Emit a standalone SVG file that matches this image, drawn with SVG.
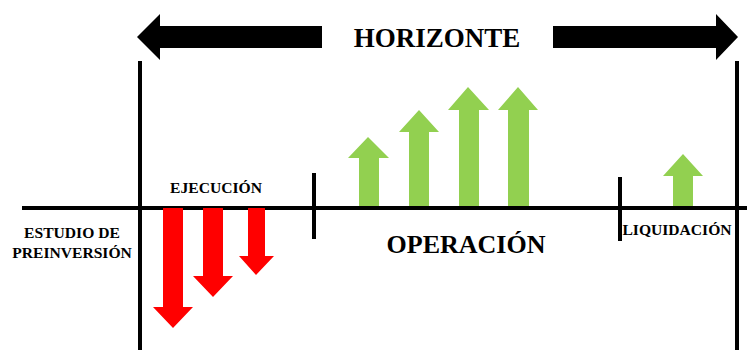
<svg xmlns="http://www.w3.org/2000/svg" width="747" height="350" viewBox="0 0 747 350">
<style>
.t{font-family:"Liberation Serif","Times New Roman",serif;font-weight:bold;fill:#000;text-anchor:middle}
.ln{stroke:#000;stroke-width:4;fill:none}
.red{fill:#FF0000}
.grn{fill:#92D050}
</style>
<rect width="747" height="350" fill="#fff"/>
<g id="horizonte">
<polygon points="137,37 160,14 160,26 322,26 322,48 160,48 160,60" fill="#000"/>
<polygon points="738,37 716,14 716,26 553,26 553,48 716,48 716,60" fill="#000"/>
<text class="t" x="437" y="47" font-size="27">HORIZONTE</text>
</g>
<g id="connectors">
<line class="ln" x1="22" y1="208" x2="747" y2="208"/>
<line class="ln" x1="140" y1="61" x2="140" y2="350"/>
<line class="ln" x1="737" y1="61" x2="737" y2="350"/>
<line class="ln" x1="314" y1="173" x2="314" y2="239"/>
<line class="ln" x1="620" y1="177" x2="620" y2="241"/>
</g>
<g id="preinversion">
<text class="t" x="72" y="238" font-size="15.6">ESTUDIO DE</text>
<text class="t" x="72" y="258" font-size="15.6">PREINVERSIÓN</text>
</g>
<g id="ejecucion">
<text class="t" x="216" y="193" font-size="15.6">EJECUCIÓN</text>
<polygon class="red" points="163,208 183,208 183,307 193,307 173,328 153,307 163,307"/>
<polygon class="red" points="203,208 223,208 223,276 233,276 213,297 193,276 203,276"/>
<polygon class="red" points="248,208 265,208 265,256 274,256 256,275 239,256 248,256"/>
</g>
<g id="operacion">
<text class="t" x="466" y="253" font-size="26">OPERACIÓN</text>
<polygon class="grn" points="359,206 379,206 379,158 389,158 368,137 348,158 359,158"/>
<polygon class="grn" points="409,206 429,206 429,132 439,132 419,110 399,132 409,132"/>
<polygon class="grn" points="459,206 479,206 479,110 489,110 468,87 448,110 459,110"/>
<polygon class="grn" points="508,206 529,206 529,110 538,110 518,87 498,110 508,110"/>
</g>
<g id="liquidacion">
<text class="t" x="677" y="235" font-size="15.6">LIQUIDACIÓN</text>
<polygon class="grn" points="673,206 693,206 693,176 703,176 683,154 663,176 673,176"/>
</g>
</svg>
